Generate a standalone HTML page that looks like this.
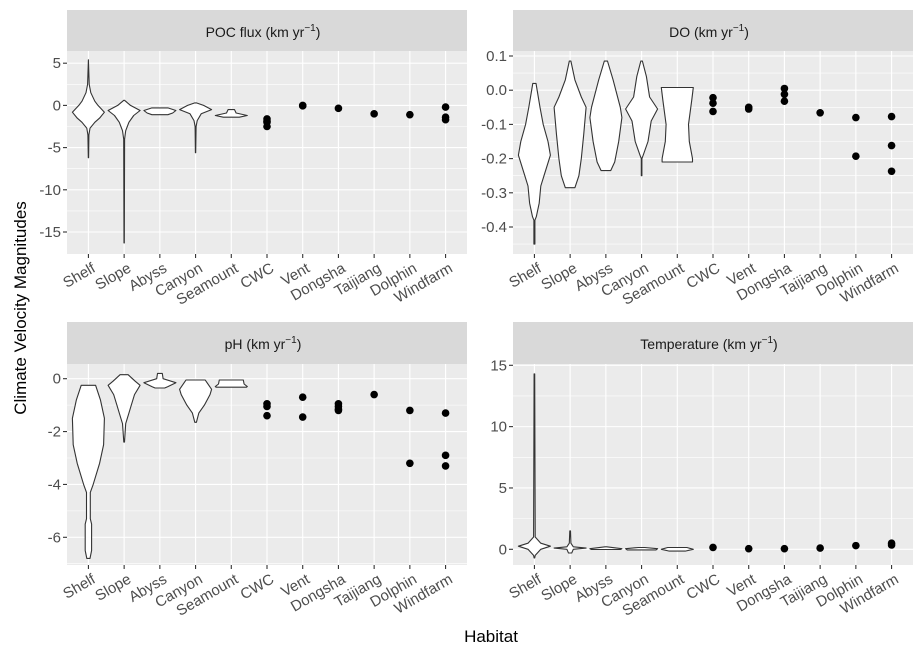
<!DOCTYPE html>
<html><head><meta charset="utf-8"><style>
body{margin:0;background:#fff;}
svg text{font-family:"Liberation Sans",Arial,sans-serif;}
</style></head><body>
<svg id="chart" width="924" height="660" xmlns="http://www.w3.org/2000/svg">
<text x="0" y="0" transform="translate(26,308) rotate(-90)" text-anchor="middle" font-size="17" fill="#000">Climate Velocity Magnitudes</text>
<text x="491" y="642" text-anchor="middle" font-size="17" fill="#000">Habitat</text>
</svg>
<script>
const categories = ["Shelf","Slope","Abyss","Canyon","Seamount","CWC","Vent","Dongsha","Taijiang","Dolphin","Windfarm"];
// violin profiles: [value, relative half-width]
const pocViolins = [
 [[5.4,0],[2.5,0.05],[1.5,0.15],[0.5,0.4],[0,0.6],[-0.8,1],[-1.5,0.7],[-2,0.4],[-2.7,0.1],[-3.5,0.03],[-6.2,0.01]],
 [[0.6,0.02],[0,0.4],[-0.6,1],[-1.2,0.6],[-2,0.3],[-3,0.1],[-4,0.03],[-16.3,0.01]],
 [[-0.3,0.5],[-0.6,1],[-0.9,0.8],[-1.1,0.5]],
 [[0.3,0.05],[0,0.5],[-0.5,1],[-1,0.35],[-1.8,0.1],[-2.5,0.03],[-5.6,0.01]],
 [[-0.5,0.2],[-0.9,0.3],[-1.2,1],[-1.4,0.5]]
];
const pocPoints = [[],[],[],[],[],[-1.6,-1.85,-2.0,-2.5],[0,-0.05],[-0.35],[-1.0],[-1.1],[-0.2,-1.4,-1.7]];
const doViolins = [
 [[0.02,0.1],[-0.05,0.35],[-0.1,0.55],[-0.15,0.85],[-0.19,1],[-0.25,0.6],[-0.28,0.4],[-0.33,0.3],[-0.37,0.12],[-0.38,0.03],[-0.45,0.03]],
 [[0.085,0.05],[0.03,0.3],[-0.02,0.7],[-0.05,1],[-0.13,0.85],[-0.2,0.7],[-0.25,0.55],[-0.285,0.3]],
 [[0.085,0.1],[0.03,0.45],[-0.05,0.9],[-0.08,1],[-0.15,0.8],[-0.21,0.55],[-0.235,0.3]],
 [[0.085,0.05],[0.04,0.3],[-0.02,0.5],[-0.055,1],[-0.09,0.6],[-0.15,0.4],[-0.19,0.1],[-0.2,0.02],[-0.25,0.02]],
 [[0.008,1],[-0.03,0.9],[-0.1,0.7],[-0.15,0.75],[-0.2,0.95],[-0.21,0.95]]
];
const doPoints = [[],[],[],[],[],[-0.022,-0.038,-0.062],[-0.05,-0.055],[0.005,-0.012,-0.032],[-0.066],[-0.08,-0.193],[-0.077,-0.162,-0.237]];
const phViolins = [
 [[-0.25,0.45],[-0.8,0.75],[-1.5,1],[-2.5,0.95],[-3.2,0.7],[-4,0.3],[-4.3,0.12],[-5.3,0.12],[-5.5,0.2],[-6.5,0.2],[-6.8,0.1]],
 [[0.15,0.25],[-0.1,0.7],[-0.25,1],[-0.6,0.65],[-1,0.45],[-1.3,0.3],[-1.7,0.1],[-2.4,0.02]],
 [[0.2,0.15],[0,0.2],[-0.15,1],[-0.3,0.5],[-0.35,0.3]],
 [[-0.05,0.6],[-0.4,1],[-0.6,0.9],[-1.0,0.55],[-1.3,0.2],[-1.65,0.05]],
 [[-0.05,0.75],[-0.2,0.8],[-0.3,1],[-0.32,0.95]]
];
const phPoints = [[],[],[],[],[],[-0.95,-1.05,-1.4],[-0.7,-1.45],[-0.95,-1.05,-1.15,-1.2],[-0.6],[-1.2,-3.2],[-1.3,-2.9,-3.3]];
const tempViolins = [
 [[14.3,0.02],[1,0.05],[0.5,0.4],[0.25,1],[0,0.4],[-0.5,0.05],[-0.7,0.02]],
 [[1.5,0.02],[0.5,0.05],[0.2,0.2],[0.1,1],[0,0.2],[-0.3,0.1]],
 [[0.2,0.05],[0.05,1],[-0.02,0.9]],
 [[0.15,0.2],[0.05,1],[-0.05,0.9]],
 [[0.15,0.6],[0,1],[-0.15,0.5]]
];
const tempPoints = [[],[],[],[],[],[0.15],[0.05],[0.05],[0.1],[0.3],[0.35,0.5]];
const pocTicks = [5,0,-5,-10,-15], pocMinor=[2.5,-2.5,-7.5,-12.5];
const doTicks = [0.1,0.0,-0.1,-0.2,-0.3,-0.4], doMinor=[0.05,-0.05,-0.15,-0.25,-0.35,-0.45];
const phTicks = [0,-2,-4,-6], phMinor=[-1,-3,-5,-7];
const tempTicks = [15,10,5,0], tempMinor=[12.5,7.5,2.5];
const tickFmt = {poc:v=>v.toFixed(0), do:v=>v.toFixed(1), ph:v=>v.toFixed(0), temp:v=>v.toFixed(0)};

const NS="http://www.w3.org/2000/svg";
const svg=document.getElementById('chart');
function mk(tag,attrs,parent){const e=document.createElementNS(NS,tag);for(const k in attrs)e.setAttribute(k,attrs[k]);(parent||svg).appendChild(e);return e;}

const panels=[
 {key:'poc',title:'POC flux (km yr',x0:67,x1:467,s0:10,y0:51,y1:254,a:[5,63.2],b:[-15,232],v:pocViolins,p:pocPoints,t:pocTicks,m:pocMinor},
 {key:'do',title:'DO (km yr',x0:513,x1:913,s0:10,y0:51,y1:254,a:[0.1,56],b:[-0.4,227],v:doViolins,p:doPoints,t:doTicks,m:doMinor},
 {key:'ph',title:'pH (km yr',x0:67,x1:467,s0:322,y0:364,y1:565,a:[0,378.7],b:[-6,537.3],v:phViolins,p:phPoints,t:phTicks,m:phMinor},
 {key:'temp',title:'Temperature (km yr',x0:513,x1:913,s0:322,y0:364,y1:565,a:[15,365.3],b:[0,549.3],v:tempViolins,p:tempPoints,t:tempTicks,m:tempMinor}
];
panels.forEach(P=>{
 const g=mk('g',{});
 
 
 const sy=v=>P.a[1]+(v-P.a[0])*(P.b[1]-P.a[1])/(P.b[0]-P.a[0]);
 const step=(P.x1-P.x0)/(categories.length-1+1.2);
 const sx=i=>P.x0+step*(0.6+i);
 const strip=mk('rect',{x:P.x0,y:P.s0,width:P.x1-P.x0,height:P.y0-P.s0,fill:'#d9d9d9'},g);
 
 
 const st=mk('text',{x:(P.x0+P.x1)/2-4,y:P.s0+27,'text-anchor':'middle','font-size':'14',fill:'#1a1a1a'},g);
 
 
 st.textContent=P.title;
 const sup=mk('tspan',{dy:'-6','font-size':'10'},st); sup.textContent='−1';
 const cl=mk('tspan',{dy:'6'},st); cl.textContent=')';
 const bg=mk('rect',{x:P.x0,y:P.y0,width:P.x1-P.x0,height:P.y1-P.y0,fill:'#ebebeb'},g);
 
 
 P.m.forEach(v=>{const y=sy(v);if(y>P.y0&&y<P.y1){const l=mk('line',{x1:P.x0,x2:P.x1,y1:y,y2:y,stroke:'#fff','stroke-width':0.6},g);
  
  }});
 P.t.forEach(v=>{const y=sy(v);const l=mk('line',{x1:P.x0,x2:P.x1,y1:y,y2:y,stroke:'#fff','stroke-width':1.1},g);
  
  
  const tk=mk('line',{x1:P.x0-4,x2:P.x0,y1:y,y2:y,stroke:'#333','stroke-width':1.1},g);
  
  
  const tx=mk('text',{x:P.x0-6,y:y+5,'text-anchor':'end','font-size':'15',fill:'#4d4d4d'},g);
  
  
  tx.textContent=tickFmt[P.key](v);});
 categories.forEach((c,i)=>{const x=sx(i);
  const l=mk('line',{x1:x,x2:x,y1:P.y0,y2:P.y1,stroke:'#fff','stroke-width':1.1},g);
  
  
  const tk=mk('line',{x1:x,x2:x,y1:P.y1,y2:P.y1+4,stroke:'#333','stroke-width':1.1},g);
  
  
  const tx=mk('text',{x:0,y:0,'text-anchor':'end','font-size':'15',fill:'#4d4d4d',transform:`translate(${x+8},${P.y1+17}) rotate(-30)`},g);
  
  
  tx.textContent=c;});
 const hw=16;
 P.v.forEach((prof,i)=>{const x=sx(i);
  const right=prof.map(([v,w])=>`${(x+w*hw).toFixed(1)},${sy(v).toFixed(1)}`);
  const left=prof.slice().reverse().map(([v,w])=>`${(x-w*hw).toFixed(1)},${sy(v).toFixed(1)}`);
  const pg=mk('polygon',{points:right.concat(left).join(' '),fill:'#fff',stroke:'#333','stroke-width':1.1,'stroke-linejoin':'round'},g);
  
  });
 P.p.forEach((arr,i)=>{const x=sx(i);arr.forEach(v=>{
  const c=mk('circle',{cx:x,cy:sy(v),r:3.8,fill:'#000'},g);
  
  });});
});
</script>
</body></html>
